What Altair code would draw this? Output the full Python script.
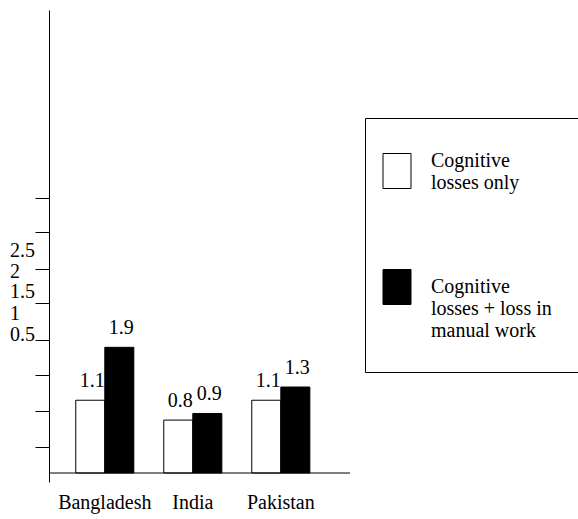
import altair as alt
import pandas as pd

FONT = "Liberation Serif"

countries = ["Bangladesh", "India", "Pakistan"]
series = ["Cognitive losses only", "Cognitive losses + loss in manual work"]
cognitive_only = [1.1, 0.8, 1.1]
with_manual = [1.9, 0.9, 1.3]

# tick marks along the y axis (data units) and the stray tick labels of the original
y_tick_values = [0.393, 0.937, 1.482, 2.011, 2.570, 3.084, 3.644, 4.158]
y_label_text = ["2.5", "2", "1.5", "1", "0.5"]
y_label_pos = [3.357, 3.039, 2.737, 2.404, 2.086]

df = pd.DataFrame({
    "country": countries * 2,
    "series": [series[0]] * 3 + [series[1]] * 3,
    "value": cognitive_only + with_manual,
})
ylab_df = pd.DataFrame({"pos": y_label_pos, "txt": y_label_text})
base_df = pd.DataFrame({"v": [0.0]})

xscale = alt.Scale(paddingInner=0.34, paddingOuter=0.38, align=0.4)
yscale = alt.Scale(domain=[-0.136, 7.0], nice=False, zero=False)

yaxis = alt.Axis(title=None, values=y_tick_values, labels=False, grid=False,
                 tickSize=14, tickColor="black", tickWidth=1,
                 domainColor="black", domainWidth=1)

xenc = alt.X("country:N", sort=countries, scale=xscale,
             axis=alt.Axis(title=None, labelAngle=0, domain=False, ticks=False,
                           labelFont=FONT, labelFontSize=20, labelColor="black",
                           labelPadding=10))
yenc = alt.Y("value:Q", scale=yscale, axis=yaxis)
xoff = alt.XOffset("series:N", sort=series)

label_expr = ("datum.value == 'Cognitive losses only' ? ['Cognitive', 'losses only'] : "
              "['\u00a0Cognitive', 'losses + loss in', 'manual work', '']")
baseline_expr = "datum.value == 'Cognitive losses only' ? 'bottom' : 'middle'"

color = alt.Color(
    "series:N", sort=series,
    scale=alt.Scale(domain=series, range=["white", "black"]),
    legend=alt.Legend(
        orient="none", legendX=316, legendY=108, direction="vertical",
        title="_" * 40, titleFont=FONT, titleFontSize=10, titlePadding=16,
        titleLimit=800, titleOpacity=0,
        strokeColor="black", padding=9,
        symbolType="M-0.8,-1H0.8V1H-0.8Z", symbolSize=1225, symbolOffset=5,
        symbolStrokeColor="black", symbolStrokeWidth=1, symbolOpacity=1,
        labelFont=FONT, labelFontSize=20, labelColor="black",
        labelOffset=16, labelLimit=400,
        labelBaseline={"expr": baseline_expr},
        rowPadding=74, labelExpr=label_expr,
    ),
)

value_labels = alt.Chart(df).mark_text(
    font=FONT, fontSize=20, color="black", baseline="alphabetic", dy=-13, dx=2
).encode(x=xenc, xOffset=xoff, y=yenc, text=alt.Text("value:Q", format=".1f"))

bars = alt.Chart(df).mark_bar(stroke="black", strokeWidth=1, opacity=1).encode(
    x=xenc, xOffset=xoff, y=yenc, y2=alt.datum(0), color=color
)

baseline = alt.Chart(base_df).mark_rule(color="black", strokeWidth=1).encode(
    y=alt.Y("v:Q", scale=yscale, axis=yaxis)
)

ylabels = alt.Chart(ylab_df).mark_text(
    font=FONT, fontSize=20, color="black", align="left", baseline="middle", dx=-39
).encode(x=alt.value(0), y=alt.Y("pos:Q", scale=yscale, axis=yaxis), text="txt:N")

chart = alt.layer(value_labels, bars, baseline, ylabels).properties(
    width=301, height=472,
    autosize=alt.AutoSizeParams(type="none"),
    padding={"left": 49, "top": 10, "right": 228, "bottom": 37},
).configure_view(stroke=None)

chart.save("out.html", embed_options={"renderer": "svg", "actions": False})
